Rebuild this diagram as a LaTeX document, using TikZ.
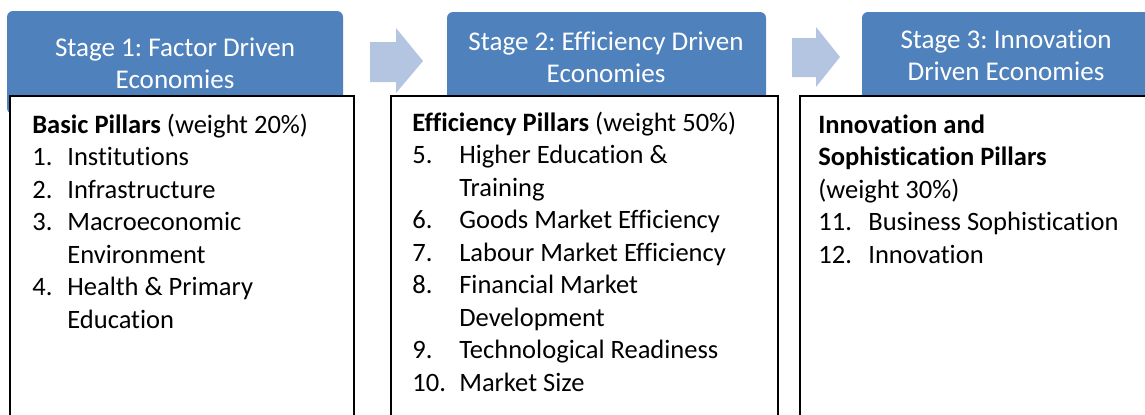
\documentclass[tikz,border=0pt]{standalone}
\usepackage{fontspec}
\setmainfont{Carlito}[Ligatures={NoCommon}]
\usetikzlibrary{
  calc
  , positioning
}
\definecolor{stageblue}{RGB}{79,129,189}
\definecolor{arrowblue}{RGB}{180,197,226}

\newcommand{\bodysize}{\fontsize{15.1}{18.5}\selectfont\frenchspacing}
\newcommand{\headsize}{\fontsize{15.4}{18.3}\selectfont\frenchspacing}

\tikzset{
  stage/.style={fill=stageblue, rounded corners=0.12cm},
  pillarbox/.style={draw=black, fill=white, line width=0.8pt},
  stagetext/.style={text=white, align=center, inner sep=0pt, font=\headsize},
  pillartext/.style={anchor=base west, inner sep=0pt, font=\bodysize},
  flow/.style={fill=arrowblue},
}

\begin{document}
\begin{tikzpicture}[x=0.02cm, y=-0.02cm]
  \useasboundingbox (0,0) rectangle (1145,414);
  \clip (0,0) rectangle (1145,414);

  % stage headers
  \fill[stage] (7,11) rectangle (343,114);
  \fill[stage] (447,12) rectangle (766,114);
  \fill[stage] (862,12) rectangle (1152,114);
  \node[stagetext] (S1) at (175,63) {Stage 1: Factor Driven\\Economies};
  \node[stagetext] (S2) at (606,57) {Stage 2: Efficiency Driven\\Economies};
  \node[stagetext] (S3) at (1006,55) {Stage 3: Innovation\\Driven Economies};

  % block arrows between the stages
  \fill[flow] (370,42) -- (396,42) -- (396,28) -- (423,61)
    -- (396,93) -- (396,82) -- (370,82) -- cycle;
  \fill[flow] (792,38) -- (816,38) -- (816,27) -- (840,57)
    -- (816,87) -- (816,77) -- (792,77) -- cycle;

  % pillar boxes
  \draw[pillarbox] (10,96) rectangle (354,430);
  \draw[pillarbox] (391,96) rectangle (778,430);
  \draw[pillarbox] (800,96) rectangle (1160,430);

  \node[pillartext] (P1) at (32,133) {\begin{tabular}[t]{@{}p{0.7cm}@{}l@{}}
    \multicolumn{2}{@{}l@{}}{\textbf{Basic Pillars} (weight 20\%)}\\
    1. & Institutions\\
    2. & Infrastructure\\
    3. & Macroeconomic\\
       & Environment\\
    4. & Health \& Primary\\
       & Education
  \end{tabular}};

  \node[pillartext] (P2) at (412,131) {\begin{tabular}[t]{@{}p{0.94cm}@{}l@{}}
    \multicolumn{2}{@{}l@{}}{\textbf{Efficiency Pillars} (weight 50\%)}\\
    5. & Higher Education \&\\
       & Training\\
    6. & Goods Market Efficiency\\
    7. & Labour Market Efficiency\\
    8. & Financial Market\\
       & Development\\
    9. & Technological Readiness\\
    10. & Market Size
  \end{tabular}};

  \node[pillartext] (P3) at (818,133) {\begin{tabular}[t]{@{}p{1.0cm}@{}l@{}}
    \multicolumn{2}{@{}l@{}}{\textbf{Innovation and}}\\
    \multicolumn{2}{@{}l@{}}{\textbf{Sophistication Pillars}}\\
    \multicolumn{2}{@{}l@{}}{(weight 30\%)}\\
    11. & Business Sophistication\\
    12. & Innovation
  \end{tabular}};
\end{tikzpicture}
\end{document}
